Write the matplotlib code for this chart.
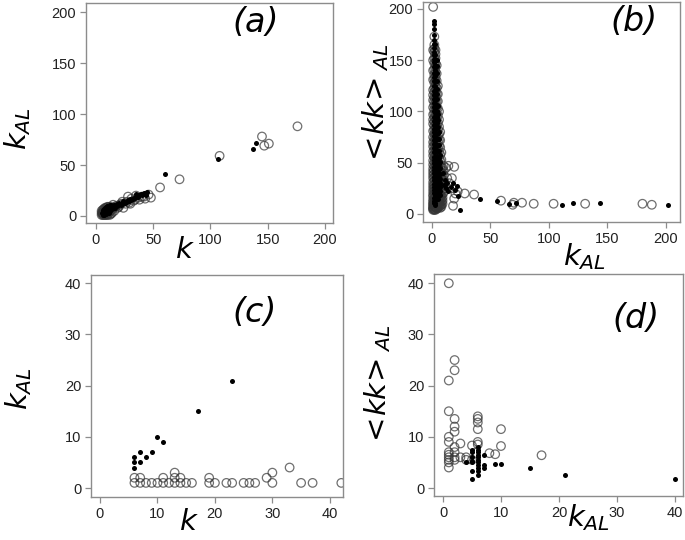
import matplotlib
matplotlib.use('Agg')
import matplotlib.pyplot as plt

plt.rcParams['font.family'] = ['Liberation Sans', 'DejaVu Sans']
plt.rcParams['mathtext.fontset'] = 'dejavusans'

# (a) k vs k_AL
a_open_k = [6, 6, 6, 6, 7, 7, 7, 7, 8, 8, 8, 8, 9, 9, 9, 10, 10, 10, 11, 11, 12, 12, 13, 14, 15, 16,
            18, 20, 22, 24, 27, 28, 30, 31, 33, 35, 38, 40, 43, 46, 48, 56, 73, 108, 145, 147, 151, 176,
            5, 5, 5, 6, 7, 8, 9, 9, 10, 11, 11, 12, 13, 13, 14, 15, 17, 19, 21, 23, 26, 29, 34, 37, 42]
a_open_kal = [1, 2, 4, 6, 1, 3, 5, 7, 1, 2, 4, 8, 1, 3, 6, 1, 5, 9, 2, 7, 1, 4, 6, 3, 8, 5,
              10, 9, 12, 8, 14, 19, 12, 17, 15, 20, 16, 19, 17, 21, 18, 28, 36, 59, 78, 69, 71, 88,
              1, 3, 5, 3, 2, 3, 5, 8, 3, 5, 9, 8, 2, 9, 6, 11, 9, 8, 11, 14, 12, 13, 16, 18, 19]
a_fill_k = [6, 6, 6, 7, 7, 7, 8, 8, 8, 9, 9, 10, 10, 11, 12, 12, 13, 14, 15, 16, 17, 18, 20,
            22, 24, 26, 28, 30, 33, 35, 37, 40, 42, 45, 60, 107, 137, 140,
            5, 6, 7, 8, 9, 10, 11, 12, 13, 14, 16, 18, 19, 21, 23, 25, 27, 29, 31, 32, 34, 36, 38, 39, 41, 44]
a_fill_kal = [2, 4, 6, 3, 5, 7, 2, 6, 8, 4, 9, 3, 10, 6, 5, 11, 8, 7, 9, 11, 8, 12, 13,
              11, 15, 14, 16, 17, 18, 22, 19, 21, 23, 24, 41, 56, 66, 72,
              3, 1, 1, 4, 2, 7, 3, 8, 11, 9, 8, 10, 11, 12, 12, 13, 14, 15, 16, 17, 18, 20, 21, 22, 22, 21]

# (b) k_AL vs <kk>_AL, the dense column listed per k_AL value
b_open_cols = {
    1: [202, 160, 150, 140, 131, 121, 116, 111, 104, 97, 92, 88, 81, 75, 70, 66, 61, 57, 52, 48, 44,
        41, 38, 35, 31, 28, 25, 22, 19, 17, 14, 12, 10, 9, 7, 6, 5, 4],
    2: [173, 165, 161, 158, 152, 147, 141, 136, 132, 128, 123, 119, 114, 110, 106, 102, 98, 94, 90, 86,
        82, 78, 74, 70, 66, 62, 58, 55, 51, 47, 43, 39, 35, 32, 28, 25, 22, 19, 16, 14, 12, 10, 8, 7, 5, 4],
    3: [160, 156, 152, 147, 143, 138, 133, 129, 124, 120, 115, 111, 106, 102, 98, 94, 90, 86, 82, 78, 74,
        70, 66, 62, 58, 54, 51, 47, 44, 40, 37, 33, 30, 27, 24, 21, 18, 15, 13, 11, 9, 7, 6, 4],
    4: [145, 137, 130, 123, 117, 110, 104, 98, 92, 86, 80, 74, 69, 63, 58, 53, 48, 44, 40, 36, 32, 28,
        25, 21, 18, 15, 12, 10, 8, 6, 5],
    5: [125, 117, 110, 103, 96, 89, 83, 77, 71, 65, 60, 55, 50, 45, 41, 37, 33, 29, 26, 23, 20, 17, 14,
        11, 9, 7, 6],
    6: [100, 92, 85, 78, 72, 66, 60, 54, 49, 44, 39, 34, 30, 26, 23, 19, 16, 13, 11, 9, 7],
    7: [80, 72, 65, 58, 52, 46, 41, 36, 31, 27, 23, 19, 16, 13, 10, 8, 6],
    8: [60, 53, 46, 40, 35, 30, 26, 22, 18, 15, 12, 9, 7],
    9: [45, 39, 33, 28, 24, 20, 16, 13, 10],
    10: [47, 42, 38, 33, 29, 25, 21],
}
b_open_kal_tail = [12, 14, 13, 15, 17, 18, 19, 19, 18, 20, 22, 28, 36, 59, 69, 70, 77, 87, 104, 131, 180, 188]
b_open_kk_tail = [45, 47, 35, 30, 35, 25, 46, 15, 8, 20, 22, 20, 19, 13, 9, 11, 11, 10, 10, 10, 10, 9]
b_fill_cols = {
    2: [188, 185, 180, 175, 170, 166, 162, 158, 155, 151, 148, 143, 138, 134, 130, 125, 120, 116, 112,
        108, 104, 100, 95, 91, 87, 83, 80, 76, 72, 68, 64, 60, 56, 53, 50, 46, 43, 40, 36, 33, 29, 26,
        23, 20, 16, 13, 11],
    3: [166, 155, 150, 145, 140, 135, 130, 125, 121, 117, 112, 108, 103, 99, 95, 91, 87, 83, 79, 75, 71,
        68, 64, 60, 56, 52, 48, 45, 41, 38, 34, 31, 28, 25, 22, 19, 16, 14, 11, 9],
    4: [150, 144, 138, 130, 122, 117, 112, 106, 100, 95, 89, 84, 78, 73, 67, 62, 57, 52, 47, 43, 38, 34,
        30, 26, 22, 18, 15],
    5: [105, 98, 92, 85, 79, 73, 67, 61, 56, 50, 45, 41, 36, 32, 28, 24, 21, 18, 15],
    6: [80, 73, 67, 61, 55, 49, 44, 39, 35, 31, 27, 23, 20],
    7: [58, 51, 45, 39, 34, 30, 26, 22, 19],
}
b_fill_kal_tail = [9, 10, 11, 12, 13, 14, 16, 18, 20, 21, 22, 24, 41, 56, 66, 72, 111, 121, 144, 202]
b_fill_kk_tail = [40, 28, 33, 25, 30, 22, 26, 30, 23, 27, 18, 4, 15, 13, 10, 11, 9, 11, 11, 9]

# (c) zoom of (a)
c_open_k = [6, 7, 8, 9, 10, 11, 12, 13, 14, 15, 16, 19, 20, 22, 23, 25, 26, 27, 30, 35, 37, 42,
            6, 7, 11, 13, 14, 19, 29, 13, 30, 33]
c_open_kal = [1] * 22 + [2, 2, 2, 2, 2, 2, 2, 3, 3, 4]
c_fill_k = [6, 6, 6, 7, 7, 8, 9, 10, 11, 17, 23]
c_fill_kal = [4, 5, 6, 7, 5, 6, 7, 10, 9, 15, 21]

# (d) zoom of (b)
d_open_kal = [1, 1, 1, 1, 1, 1, 1, 1, 1, 1, 1,
              2, 2, 2, 2, 2, 2, 2, 2, 2,
              3, 3, 4, 4, 5, 5, 6, 6, 6, 6, 6, 6, 8, 9, 10, 10, 17]
d_open_kk = [40, 21, 15, 10, 9, 7, 6.5, 6, 5.5, 5, 4,
             25, 23, 13.5, 12, 11, 8, 7, 6, 5.5,
             8.7, 6, 5.5, 6, 8.3, 5.5, 14, 13.5, 12.8, 11.5, 9, 8.5, 6.8, 6.6, 11.5, 8.2, 6.4]
d_fill_kal = [4, 5, 5, 5, 5, 5, 5, 5, 6, 6, 6, 6, 6, 6, 6, 6, 6, 6, 6, 7, 7, 7, 9, 10, 15, 21, 40]
d_fill_kk = [5, 7.5, 7, 6, 5.3, 5, 3.4, 1.8, 8, 7.5, 7, 6.5, 6, 5.5, 5, 4.5, 4, 3.3, 2.5,
             6.5, 4.5, 4, 4.6, 4.6, 3.9, 2.6, 1.8]


def flatten(cols, tail_x, tail_y):
    xs, ys = [], []
    for x, vals in cols.items():
        xs += [x] * len(vals)
        ys += vals
    return xs + tail_x, ys + tail_y


b_open_kal, b_open_kk = flatten(b_open_cols, b_open_kal_tail, b_open_kk_tail)
b_fill_kal, b_fill_kk = flatten(b_fill_cols, b_fill_kal_tail, b_fill_kk_tail)

fig = plt.figure(figsize=(6.85, 5.40), dpi=100)

spine_col = '#8c8c8c'


def style(ax, xlim, ylim, ticks):
    ax.set_xlim(*xlim)
    ax.set_ylim(*ylim)
    ax.set_xticks(ticks)
    ax.set_yticks(ticks)
    for s in ax.spines.values():
        s.set_color(spine_col)
        s.set_linewidth(1.0)
    ax.tick_params(colors=spine_col, labelcolor='#222222', labelsize=10.5, length=4, width=0.9, pad=3)


def draw(ax, ox, oy, fx, fy):
    ax.scatter(ox, oy, s=38, facecolors='none', edgecolors='#333333', linewidths=0.9, alpha=0.7)
    ax.scatter(fx, fy, s=13, c='black', linewidths=0)


lab = dict(fontsize=21)
panel = dict(fontsize=24, style='italic', family='DejaVu Sans', ha='center', va='center')

ax_a = fig.add_axes([0.1255, 0.587, 0.3606, 0.4074])
draw(ax_a, a_open_k, a_open_kal, a_fill_k, a_fill_kal)
style(ax_a, (-8.7, 207), (-6.9, 209), [0, 50, 100, 150, 200])
ax_a.set_xlabel(r'$k$', **lab)
ax_a.xaxis.set_label_coords(0.40, -0.06)
ax_a.set_ylabel(r'$k_{AL}$', **lab)
ax_a.yaxis.set_label_coords(-0.215, 0.43)
ax_a.text(0.688, 0.91, '(a)', transform=ax_a.transAxes, **panel)

ax_b = fig.add_axes([0.6175, 0.5889, 0.375, 0.4074])
draw(ax_b, b_open_kal, b_open_kk, b_fill_kal, b_fill_kk)
style(ax_b, (-7.7, 212), (-7.8, 206.8), [0, 50, 100, 150, 200])
ax_b.set_xlabel(r'$k_{AL}$', **lab)
ax_b.xaxis.set_label_coords(0.63, -0.088)
ax_b.set_ylabel(r'$<\!kk\!>_{AL}$', **lab)
ax_b.yaxis.set_label_coords(-0.125, 0.53)
ax_b.text(0.82, 0.91, '(b)', transform=ax_b.transAxes, **panel)

ax_c = fig.add_axes([0.1328, 0.0796, 0.368, 0.411])
draw(ax_c, c_open_k, c_open_kal, c_fill_k, c_fill_kal)
style(ax_c, (-1.57, 42.3), (-1.76, 41.6), [0, 10, 20, 30, 40])
ax_c.set_xlabel(r'$k$', **lab)
ax_c.xaxis.set_label_coords(0.39, -0.05)
ax_c.set_ylabel(r'$k_{AL}$', **lab)
ax_c.yaxis.set_label_coords(-0.225, 0.49)
ax_c.text(0.65, 0.83, '(c)', transform=ax_c.transAxes, **panel)

ax_d = fig.add_axes([0.6336, 0.0815, 0.3635, 0.411])
draw(ax_d, d_open_kal, d_open_kk, d_fill_kal, d_fill_kk)
style(ax_d, (-1.55, 41.4), (-1.56, 41.8), [0, 10, 20, 30, 40])
ax_d.set_xlabel(r'$k_{AL}$', **lab)
ax_d.xaxis.set_label_coords(0.62, -0.03)
ax_d.set_ylabel(r'$<\!kk\!>_{AL}$', **lab)
ax_d.yaxis.set_label_coords(-0.165, 0.495)
ax_d.text(0.81, 0.80, '(d)', transform=ax_d.transAxes, **panel)

fig.savefig('out.png', dpi=100)
